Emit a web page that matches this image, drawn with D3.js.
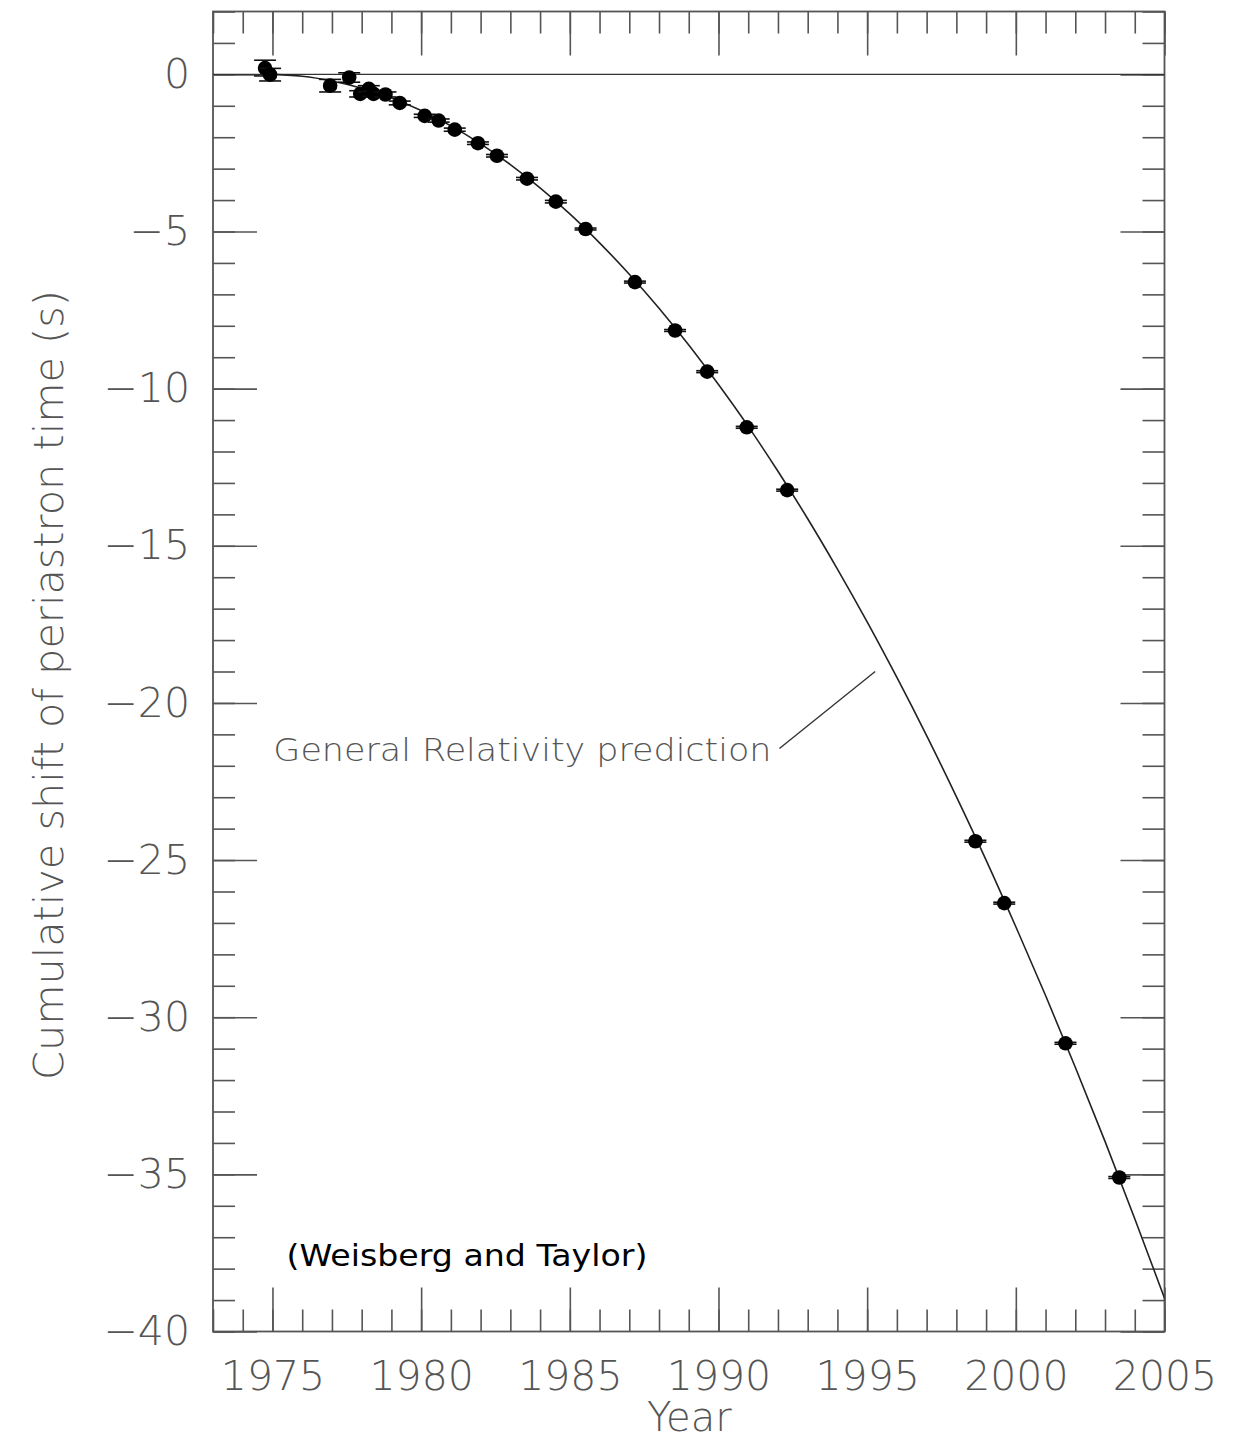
<!DOCTYPE html>
<html>
<head>
<meta charset="utf-8">
<script src="https://cdn.jsdelivr.net/npm/d3@7/dist/d3.min.js"></script>
<style>
  body { margin: 0; background: #fff; }
  .tk line { stroke: #555; stroke-width: 1.6; }
  .tk text { fill: #555; font-family: "DejaVu Sans", sans-serif; font-weight: 200; font-size: 41px; }
  .lbl { fill: #555; font-family: "DejaVu Sans", sans-serif; font-weight: 200; }
</style>
</head>
<body>
<svg width="1245" height="1437"></svg>
<script>
// observed points (year, cumulative shift in s, error)
var obsYear  = [1974.75, 1974.92, 1976.94, 1977.58, 1977.95, 1978.24, 1978.40, 1978.80, 1979.28,
                1980.12, 1980.59, 1981.13, 1981.91, 1982.55, 1983.56, 1984.53, 1985.53, 1987.19,
                1988.54, 1989.62, 1990.95, 1992.31, 1998.64, 1999.61, 2001.67, 2003.48];
var obsShift = [0.20, -0.01, -0.36, -0.10, -0.62, -0.46, -0.62, -0.64, -0.91,
                -1.32, -1.47, -1.76, -2.19, -2.59, -3.32, -4.05, -4.92, -6.61,
                -8.15, -9.46, -11.23, -13.23, -24.40, -26.37, -30.83, -35.10];
var obsErr   = [0.25, 0.20, 0.20, 0.15, 0.10, 0.10, 0.08, 0.08, 0.06,
                0.05, 0.05, 0.05, 0.04, 0.04, 0.04, 0.04, 0.03, 0.03,
                0.03, 0.03, 0.03, 0.03, 0.03, 0.03, 0.03, 0.03];

// general relativity prediction
var grYear  = [1974.8, 1976, 1977, 1978, 1979, 1980, 1981, 1982, 1983, 1984, 1985, 1986, 1987, 1988,
               1989, 1990, 1991, 1992, 1993, 1994, 1995, 1996, 1997, 1998, 1999, 2000, 2001, 2002,
               2003, 2004, 2005.5];
var grShift = [0, -0.06, -0.21, -0.44, -0.75, -1.15, -1.64, -2.21, -2.87, -3.61, -4.44, -5.36, -6.36, -7.44,
               -8.61, -9.87, -11.2, -12.63, -14.14, -15.74, -17.42, -19.19, -21.04, -22.98, -25.0, -27.12, -29.31, -31.59,
               -33.95, -36.41, -40.2];

var xMajor = [1975, 1980, 1985, 1990, 1995, 2000, 2005];
var yMajor = [0, -5, -10, -15, -20, -25, -30, -35, -40];

var svg = d3.select("svg");
var plotL = 213, plotR = 1164.5, plotT = 11.5, plotB = 1331.5;

var x = d3.scaleLinear().domain([1973, 2005]).range([plotL, plotR]);
var y = d3.scaleLinear().domain([-40, 2]).range([plotB, plotT]);

var xMinor = d3.range(1973, 2006);
var yMinor = d3.range(-40, 3);
var minus = function (d) { return d < 0 ? "\u2212" + (-d) : "" + d; };

// frame
svg.append("rect")
  .attr("x", plotL).attr("y", plotT)
  .attr("width", plotR - plotL).attr("height", plotB - plotT)
  .attr("fill", "none").attr("stroke", "#555").attr("stroke-width", 1.8);

// ticks on all four sides, pointing inward
function ticks(axis, tr, vals, len, fmt) {
  var g = svg.append("g").attr("class", "tk").attr("transform", tr)
    .call(axis.tickValues(vals).tickSizeInner(-len).tickSizeOuter(0).tickFormat(fmt || ""));
  g.select(".domain").remove();
  return g;
}
ticks(d3.axisBottom(x), "translate(0," + plotB + ")", xMinor, 22);
ticks(d3.axisTop(x), "translate(0," + plotT + ")", xMinor, 22);
ticks(d3.axisLeft(y), "translate(" + plotL + ",0)", yMinor, 22);
ticks(d3.axisRight(y), "translate(" + plotR + ",0)", yMinor, 22);

ticks(d3.axisBottom(x).tickPadding(29), "translate(0," + plotB + ")", xMajor, 44, d3.format("d"));
ticks(d3.axisTop(x), "translate(0," + plotT + ")", xMajor, 44);
ticks(d3.axisLeft(y).tickPadding(23), "translate(" + plotL + ",0)", yMajor, 44, minus);
ticks(d3.axisRight(y), "translate(" + plotR + ",0)", yMajor, 44);

// zero line
svg.append("line")
  .attr("x1", plotL).attr("x2", plotR)
  .attr("y1", y(0)).attr("y2", y(0))
  .attr("stroke", "#333").attr("stroke-width", 1.4);

// clip for the curve
svg.append("clipPath").attr("id", "clip")
  .append("rect").attr("x", plotL).attr("y", plotT)
  .attr("width", plotR - plotL).attr("height", plotB - plotT);

var line = d3.line()
  .x(function (d, i) { return x(grYear[i]); })
  .y(function (d) { return y(d); })
  .curve(d3.curveMonotoneX);

svg.append("path")
  .attr("clip-path", "url(#clip)")
  .attr("d", line(grShift))
  .attr("fill", "none").attr("stroke", "#222").attr("stroke-width", 1.6);

// error bars and points
var pts = svg.append("g").selectAll("g").data(obsYear).enter().append("g");
pts.append("line")
  .attr("x1", function (d) { return x(d); }).attr("x2", function (d) { return x(d); })
  .attr("y1", function (d, i) { return y(obsShift[i] - obsErr[i]); })
  .attr("y2", function (d, i) { return y(obsShift[i] + obsErr[i]); })
  .attr("stroke", "#111").attr("stroke-width", 1.5);
[-1, 1].forEach(function (s) {
  pts.append("line")
    .attr("x1", function (d) { return x(d) - 11; }).attr("x2", function (d) { return x(d) + 11; })
    .attr("y1", function (d, i) { return y(obsShift[i] + s * obsErr[i]); })
    .attr("y2", function (d, i) { return y(obsShift[i] + s * obsErr[i]); })
    .attr("stroke", "#111").attr("stroke-width", 1.6);
});
pts.append("circle")
  .attr("cx", function (d) { return x(d); })
  .attr("cy", function (d, i) { return y(obsShift[i]); })
  .attr("r", 7.3)
  .attr("fill", "#000");

// annotation
svg.append("line")
  .attr("x1", x(1992.05)).attr("y1", y(-21.45))
  .attr("x2", x(1995.27)).attr("y2", y(-19.0))
  .attr("stroke", "#333").attr("stroke-width", 1.4);

svg.append("text").attr("class", "lbl")
  .attr("x", x(1975.03)).attr("y", y(-21.85))
  .attr("font-size", 32)
  .attr("textLength", 498).attr("lengthAdjust", "spacingAndGlyphs")
  .text("General Relativity prediction");

svg.append("text")
  .attr("x", x(1975.47)).attr("y", y(-37.9))
  .attr("font-family", "DejaVu Sans, sans-serif").attr("font-size", 30)
  .attr("textLength", 361).attr("lengthAdjust", "spacingAndGlyphs")
  .attr("fill", "#000")
  .text("(Weisberg and Taylor)");

// axis titles
svg.append("text").attr("class", "lbl")
  .attr("x", (plotL + plotR) / 2 + 0.5).attr("y", 1431)
  .attr("text-anchor", "middle").attr("font-size", 40)
  .text("Year");

svg.append("text").attr("class", "lbl")
  .attr("transform", "translate(63," + 685 + ") rotate(-90)")
  .attr("text-anchor", "middle").attr("font-size", 40)
  .attr("textLength", 790).attr("lengthAdjust", "spacingAndGlyphs")
  .text("Cumulative shift of periastron time (s)");
</script>
</body>
</html>
